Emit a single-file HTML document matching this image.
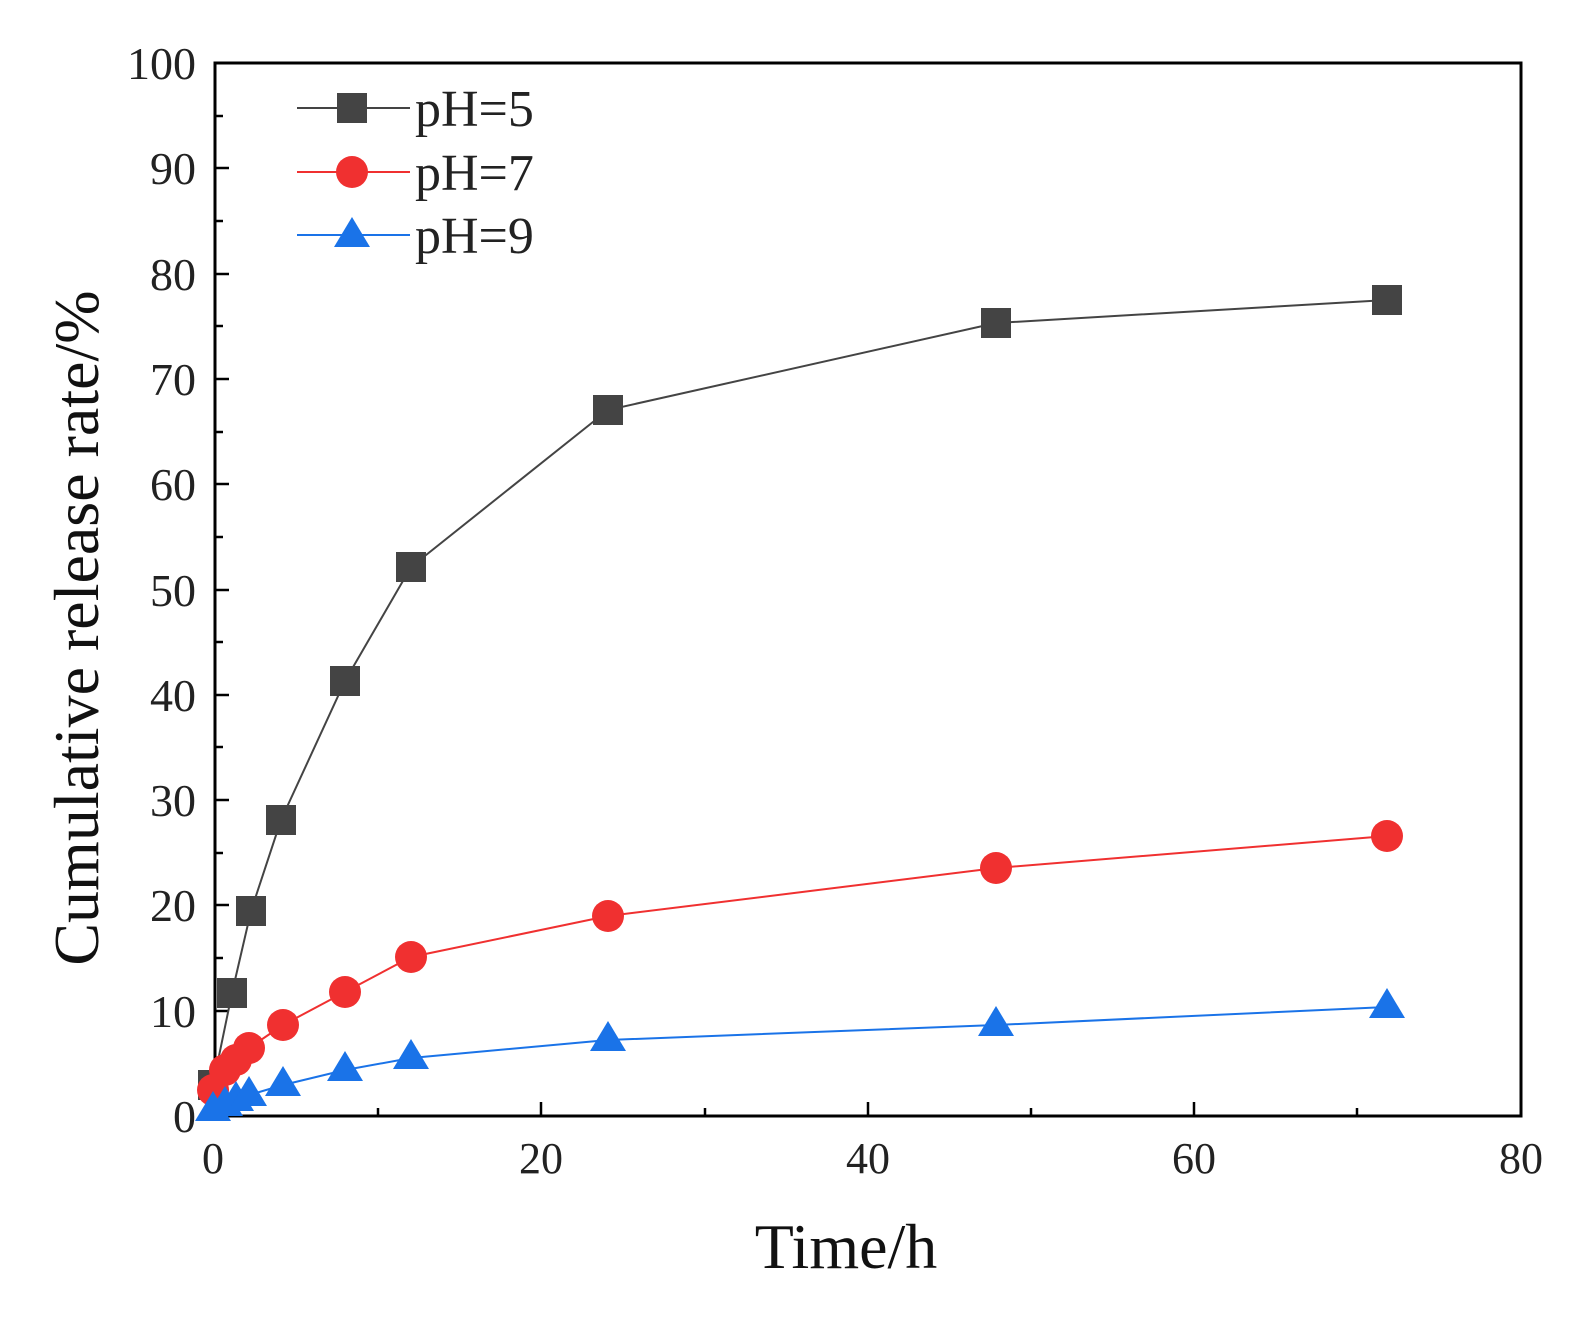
<!DOCTYPE html>
<html><head><style>html,body{margin:0;padding:0;background:#fff}</style></head><body>
<svg width="1589" height="1318" viewBox="0 0 1589 1318" xmlns="http://www.w3.org/2000/svg" font-family="Liberation Serif, serif">
<rect width="1589" height="1318" fill="#fff"/>
<rect x="215" y="63" width="1306" height="1053" fill="none" stroke="#000" stroke-width="3"/>
<g stroke="#000" stroke-width="2.5">
<line x1="215" y1="1116" x2="215" y2="1102"/><line x1="541" y1="1116" x2="541" y2="1102"/><line x1="868" y1="1116" x2="868" y2="1102"/><line x1="1194" y1="1116" x2="1194" y2="1102"/>
<line x1="378" y1="1116" x2="378" y2="1108"/><line x1="705" y1="1116" x2="705" y2="1108"/><line x1="1031" y1="1116" x2="1031" y2="1108"/><line x1="1357" y1="1116" x2="1357" y2="1108"/>
<line x1="215" y1="168" x2="229" y2="168"/><line x1="215" y1="274" x2="229" y2="274"/><line x1="215" y1="379" x2="229" y2="379"/><line x1="215" y1="484" x2="229" y2="484"/><line x1="215" y1="590" x2="229" y2="590"/><line x1="215" y1="695" x2="229" y2="695"/><line x1="215" y1="800" x2="229" y2="800"/><line x1="215" y1="905" x2="229" y2="905"/><line x1="215" y1="1011" x2="229" y2="1011"/>
<line x1="215" y1="116" x2="223" y2="116"/><line x1="215" y1="221" x2="223" y2="221"/><line x1="215" y1="326" x2="223" y2="326"/><line x1="215" y1="432" x2="223" y2="432"/><line x1="215" y1="537" x2="223" y2="537"/><line x1="215" y1="642" x2="223" y2="642"/><line x1="215" y1="747" x2="223" y2="747"/><line x1="215" y1="853" x2="223" y2="853"/><line x1="215" y1="958" x2="223" y2="958"/><line x1="215" y1="1063" x2="223" y2="1063"/>
</g>
<g font-size="46" fill="#222" text-anchor="end">
<text x="196" y="79">100</text><text x="196" y="184">90</text><text x="196" y="290">80</text><text x="196" y="395">70</text><text x="196" y="500">60</text><text x="196" y="606">50</text><text x="196" y="711">40</text><text x="196" y="816">30</text><text x="196" y="921">20</text><text x="196" y="1027">10</text><text x="196" y="1132">0</text>
</g>
<g font-size="44" fill="#222" text-anchor="middle">
<text x="213" y="1173">0</text><text x="541" y="1173">20</text><text x="868" y="1173">40</text><text x="1194" y="1173">60</text><text x="1521" y="1173">80</text>
</g>
<text x="846" y="1268" font-size="64" text-anchor="middle" fill="#111">Time/h</text>
<text transform="translate(98,628) rotate(-90)" font-size="64" text-anchor="middle" fill="#111">Cumulative release rate/%</text>
<polyline fill="none" stroke="#444" stroke-width="2" points="213,1085 232,993 251,911 281,820 345,681 411,567 608,410 996,323 1387,300"/>
<g fill="#444">
<rect x="198" y="1070" width="30" height="30"/><rect x="217" y="978" width="30" height="30"/><rect x="236" y="896" width="30" height="30"/><rect x="266" y="805" width="30" height="30"/><rect x="330" y="666" width="30" height="30"/><rect x="396" y="552" width="30" height="30"/><rect x="593" y="395" width="30" height="30"/><rect x="981" y="308" width="30" height="30"/><rect x="1372" y="285" width="30" height="30"/>
</g>
<polyline fill="none" stroke="#f03030" stroke-width="2" points="213,1090 225,1070 236,1060 249,1048 283,1025 345,992 411,957 608,916 996,868 1387,836"/>
<g fill="#f03030">
<circle cx="213" cy="1090" r="16"/><circle cx="225" cy="1070" r="16"/><circle cx="236" cy="1060" r="16"/><circle cx="249" cy="1048" r="16"/><circle cx="283" cy="1025" r="16"/><circle cx="345" cy="992" r="16"/><circle cx="411" cy="957" r="16"/><circle cx="608" cy="916" r="16"/><circle cx="996" cy="868" r="16"/><circle cx="1387" cy="836" r="16"/>
</g>
<polyline fill="none" stroke="#1a73e8" stroke-width="2" points="213,1110 225,1105 236,1100 249,1095 283,1085 345,1070 411,1058 608,1040 996,1025 1387,1007"/>
<g fill="#1a73e8">
<polygon points="213,1091 231,1121 195,1121"/><polygon points="225,1086 243,1116 207,1116"/><polygon points="236,1081 254,1111 218,1111"/><polygon points="249,1076 267,1106 231,1106"/><polygon points="283,1066 301,1096 265,1096"/><polygon points="345,1051 363,1081 327,1081"/><polygon points="411,1039 429,1069 393,1069"/><polygon points="608,1021 626,1051 590,1051"/><polygon points="996,1006 1014,1036 978,1036"/><polygon points="1387,988 1405,1018 1369,1018"/>
</g>
<line x1="297" y1="108" x2="410" y2="108" stroke="#444" stroke-width="2"/><rect x="337" y="93" width="30" height="30" fill="#444"/>
<line x1="297" y1="172" x2="410" y2="172" stroke="#f03030" stroke-width="2"/><circle cx="352" cy="172" r="16" fill="#f03030"/>
<line x1="297" y1="235" x2="410" y2="235" stroke="#1a73e8" stroke-width="2"/><polygon points="352,217 370,247 334,247" fill="#1a73e8"/>
<g font-size="52" fill="#222"><text x="415" y="126">pH=5</text><text x="415" y="190">pH=7</text><text x="415" y="253">pH=9</text></g>
</svg>
</body></html>
